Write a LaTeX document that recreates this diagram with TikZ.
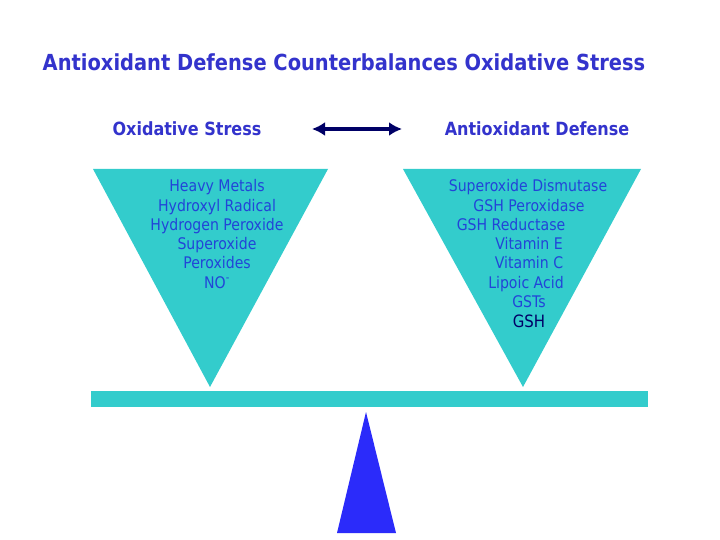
\documentclass[tikz,border=0pt]{standalone}
\usepackage{fontspec}
\setmainfont{DejaVu Sans}[FakeStretch=0.88]
\usetikzlibrary{arrows.meta}
\definecolor{titleblue}{HTML}{3333CC}
\definecolor{listblue}{HTML}{2244D8}
\definecolor{darknavy}{HTML}{000066}
\definecolor{beamcyan}{HTML}{33CCCC}
\definecolor{fulcrumblue}{HTML}{2B2BFA}
\tikzset{
  heading/.style={font=\fontsize{18.2}{21}\selectfont\bfseries, text=titleblue},
  listitem/.style={text=listblue, inner sep=0pt, text height=11pt, text depth=3pt}
}

\begin{document}
\begin{tikzpicture}[x=1pt, y=-1pt, font=\fontsize{16}{19}\selectfont]
  \useasboundingbox (0,0) rectangle (720,540);
  % Titel
  \node[font=\fontsize{22.1}{26}\selectfont\bfseries, text=titleblue] (title) at (344,62)
    {Antioxidant Defense Counterbalances Oxidative Stress};

  % Kopfzeile mit Doppelpfeil
  \node[heading] (stress) at (187,129) {Oxidative Stress};
  \node[heading] (defense) at (537,129) {Antioxidant Defense};
  \coordinate (arrowL) at (312,129);
  \coordinate (arrowR) at (402,129);
  \draw[darknavy, line width=4.5pt, {Latex[length=13pt,width=14pt]}-{Latex[length=13pt,width=14pt]}]
    (arrowL) -- (arrowR);

  % Dreiecke
  \fill[beamcyan] (93,169) -- (328,169) -- (210,387) -- cycle;
  \fill[beamcyan] (403,169) -- (641,169) -- (523,387) -- cycle;

  % Balken und Drehpunkt
  \fill[beamcyan] (91,391) rectangle (648,407);
  \fill[fulcrumblue] (366,412) -- (396,533) -- (337,533) -- cycle;

  % Liste links
  \foreach \txt [count=\r from 0] in {
    Heavy Metals, Hydroxyl Radical, Hydrogen Peroxide,
    Superoxide, Peroxides, {NO\textsuperscript{-}}%
  } {
    \node[listitem] (stress\r) at (217, 188+\r*19.2) {\txt};
  }

  % Liste rechts
  \foreach \xc/\txt [count=\r from 0] in {
    528/Superoxide Dismutase, 529/GSH Peroxidase, 511/GSH Reductase,
    529/Vitamin E, 529/Vitamin C, 526/Lipoic Acid, 529/GSTs%
  } {
    \node[listitem] (defense\r) at (\xc, 188+\r*19.2) {\txt};
  }
  \node[listitem, text=darknavy, font=\fontsize{17}{20}\selectfont] (gsh) at (529,323) {GSH};
\end{tikzpicture}
\end{document}
